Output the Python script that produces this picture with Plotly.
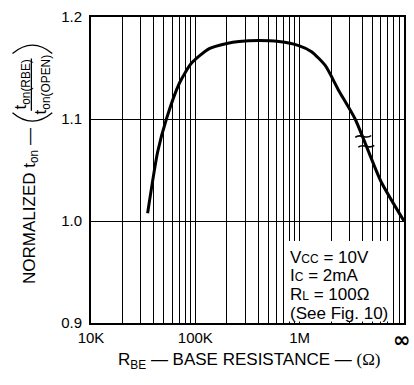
import plotly.graph_objects as go

# ---- data ----
rbe_ohms = [34.9e3, 43.5e3, 53e3, 70.5e3, 91.6e3, 136e3, 200e3, 262e3, 407e3,
            631e3, 980e3, 1.3e6, 1.77e6, 2.35e6, 3.4e6, 6.0e6, 1.0e7]
norm_ton = [1.0077, 1.0676, 1.1005, 1.1353, 1.1546, 1.169, 1.174, 1.176, 1.177,
            1.176, 1.172, 1.166, 1.152, 1.1285, 1.100, 1.039, 1.000]

x_major = [1e4, 1e5, 1e6, 1e7]
x_major_labels = ["10K", "100K", "1M", ""]
infinity_label = "<b>∞</b>"
y_ticks = [0.9, 1.0, 1.1, 1.2]
y_tick_labels = ["0.9", "1.0", "1.1", "1.2"]

SUB = "<span style='font-size:12px'>{}</span>"
conditions = ["V" + SUB.format("CC") + " = 10V", "I" + SUB.format("C") + " = 2mA",
              "R" + SUB.format("L") + " = 100Ω", "(See Fig. 10)"]

# ---- layout geometry ----
W, H = 414, 385
L, R, T, B = 91, 8, 13, 62
pw, ph = W - L - R, H - T - B


def px(x):
    return (x - L) / pw


def py(y):
    return (H - B - y) / ph


FONT = "Liberation Sans, Arial, sans-serif"

# all grid positions (1..9 per decade)
grid_vals = []
grid_text = []
for d in range(4, 7):
    for m in range(1, 10):
        v = m * 10 ** d
        grid_vals.append(v)
        grid_text.append(x_major_labels[x_major.index(v)] if v in x_major else "")
grid_vals.append(1e7)
grid_text.append(x_major_labels[-1])

fig = go.Figure()
fig.add_trace(go.Scatter(
    x=rbe_ohms, y=norm_ton, mode="lines",
    line=dict(color="black", width=3, shape="spline", smoothing=0.6),
    hoverinfo="skip", showlegend=False, cliponaxis=True))

fig.update_layout(
    width=W, height=H,
    margin=dict(l=L, r=R, t=T, b=B),
    paper_bgcolor="white", plot_bgcolor="white",
    font=dict(family=FONT, size=15, color="black"),
    xaxis=dict(type="log", range=[4, 7],
               tickvals=grid_vals, ticktext=grid_text,
               showgrid=True, gridcolor="black", gridwidth=1,
               showline=True, linecolor="black", linewidth=2, mirror=True,
               ticks="", zeroline=False, ticklabelstandoff=0,
               tickfont=dict(size=15, family=FONT)),
    yaxis=dict(range=[0.9, 1.2], tickvals=y_ticks, ticktext=y_tick_labels,
               showgrid=True, gridcolor="black", gridwidth=1,
               showline=True, linecolor="black", linewidth=2, mirror=True,
               ticks="", zeroline=False, ticklabelstandoff=4,
               tickfont=dict(size=15, family=FONT)),
)

shapes = []
# white box for condition text
shapes.append(dict(type="rect", xref="paper", yref="paper",
                   x0=px(286), x1=px(393), y0=py(321.5), y1=py(240),
                   fillcolor="white", line=dict(width=0), layer="above"))
# parentheses and fraction bar of the y title
shapes.append(dict(type="path", xref="paper", yref="paper",
                   path=f"M {px(12)},{py(110)} Q {px(32)},{py(127)} {px(52)},{py(110)}",
                   line=dict(color="black", width=1.3)))
shapes.append(dict(type="path", xref="paper", yref="paper",
                   path=f"M {px(12)},{py(50)} Q {px(32)},{py(33)} {px(52)},{py(50)}",
                   line=dict(color="black", width=1.3)))
shapes.append(dict(type="line", xref="paper", yref="paper",
                   x0=px(31), x1=px(31), y0=py(55), y1=py(108),
                   line=dict(color="black", width=1.3)))
# break marks (squiggles) across the curve
for (cx, cy) in [(365, 134), (368, 144)]:
    shapes.append(dict(
        type="path", xref="paper", yref="paper",
        path=(f"M {px(cx-8)},{py(cy+1)} C {px(cx-3)},{py(cy-4)} "
              f"{px(cx+3)},{py(cy+4)} {px(cx+8)},{py(cy-1)}"),
        line=dict(color="black", width=1.6), layer="above"))
fig.update_layout(shapes=shapes)

ann = []
for txt, yc in zip(conditions, [257, 275, 294, 313]):
    ann.append(dict(text=txt, xref="paper", yref="paper",
                    x=px(289), y=py(yc), xanchor="left", yanchor="middle",
                    align="left", showarrow=False, font=dict(size=17, family=FONT)))
ann.append(dict(text="NORMALIZED t<sub>on</sub> —", xref="paper", yref="paper",
                x=px(30), y=py(204), textangle=-90, showarrow=False,
                xanchor="center", yanchor="middle", font=dict(size=17, family=FONT)))
ann.append(dict(text="t<sub>on(RBE)</sub>", xref="paper", yref="paper",
                x=px(22), y=py(81), textangle=-90, showarrow=False,
                xanchor="center", yanchor="middle", font=dict(size=17, family=FONT)))
ann.append(dict(text="t<sub>on(OPEN)</sub>", xref="paper", yref="paper",
                x=px(42), y=py(81), textangle=-90, showarrow=False,
                xanchor="center", yanchor="middle", font=dict(size=17, family=FONT)))
ann.append(dict(text="R<sub>BE</sub> — BASE RESISTANCE — <span style='font-family:Liberation Serif'>(Ω)</span>",
                xref="paper", yref="paper", x=px(250), y=py(362),
                xanchor="center", yanchor="middle", showarrow=False,
                font=dict(size=17, family=FONT)))
# infinity label at the right end of the axis
ann.append(dict(text=infinity_label, xref="paper", yref="paper", x=px(404), y=py(340),
                xanchor="center", yanchor="middle", showarrow=False,
                font=dict(size=21, family="DejaVu Sans")))
fig.update_layout(annotations=ann)

fig.write_html("out.html", config={"displayModeBar": False},
               post_script="document.body.style.margin='0px';")
